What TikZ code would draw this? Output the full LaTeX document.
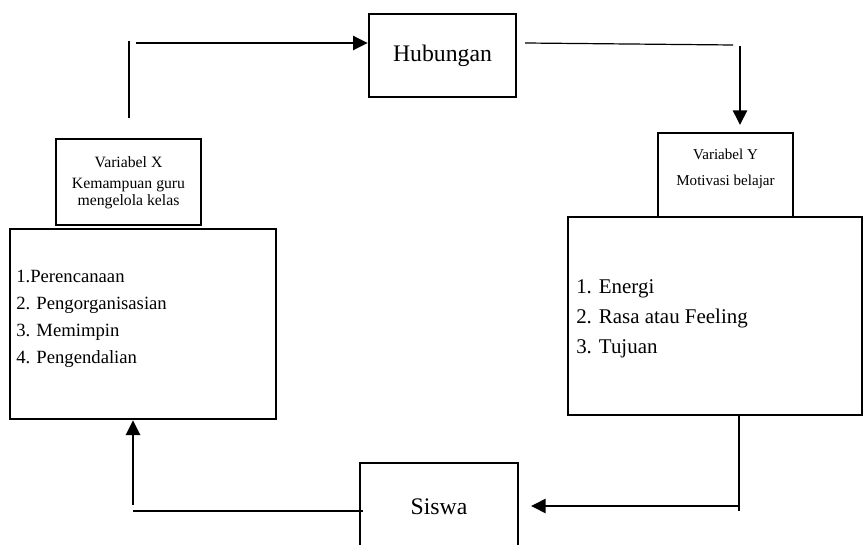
\documentclass[tikz,border=0pt]{standalone}
\usepackage{fontspec}
\setmainfont{Liberation Serif}
\usetikzlibrary{arrows.meta}
\begin{document}
\begin{tikzpicture}[x=0.75pt,y=-0.75pt,
  box/.style={draw,line width=2pt,inner sep=0pt,rectangle},
  thickline/.style={line width=2pt},
  thinline/.style={line width=0.9pt},
  arr/.style={thickline,-{Triangle[length=11pt,width=10.5pt]}},
  big/.style={font=\fontsize{17.8}{20}\selectfont},
  varfont/.style={font=\fontsize{11.8}{13}\selectfont,anchor=base,inner sep=0pt},
  listX/.style={font=\fontsize{14}{16}\selectfont,anchor=base west,inner sep=0pt},
  listY/.style={font=\fontsize{15.7}{18}\selectfont,anchor=base west,inner sep=0pt}]
\useasboundingbox (0,0) rectangle (863,545);
\clip (0,0) rectangle (863,545);
% boxes
\node[box,big,minimum width=110.25pt,minimum height=62.25pt] (hub) at (442.5,55.5) {Hubungan};
\node[box,minimum width=108.75pt,minimum height=64.5pt] (varx) at (128.5,182) {};
\node[box,minimum width=199.5pt,minimum height=142.5pt] (xlist) at (143,324) {};
\node[box,minimum width=101.25pt,minimum height=63pt] (vary) at (725.5,175) {};
\node[box,minimum width=220.5pt,minimum height=148.5pt] (ylist) at (715,316) {};
\node[box,big,minimum width=118.5pt,minimum height=66pt] (siswa) at (439,507) {Siswa};
% texts
\node[varfont] (vx1) at (128.5,168) {Variabel X};
\node[varfont] (vx2) at (128.5,189) {Kemampuan guru};
\node[varfont] (vx3) at (128.5,206) {mengelola kelas};
\node[varfont,font=\fontsize{11.3}{13}\selectfont] (vy1) at (725.5,160) {Variabel Y};
\node[varfont,font=\fontsize{11.3}{13}\selectfont] (vy2) at (725.5,186) {Motivasi belajar};
\node[listX] (x1) at (16,282) {1.Perencanaan};
\node[listX] (x2) at (16,309) {2. Pengorganisasian};
\node[listX] (x3) at (16,336) {3. Memimpin};
\node[listX] (x4) at (16,363) {4. Pengendalian};
\node[listY] (y1) at (576,293) {1. Energi};
\node[listY] (y2) at (576,323) {2. Rasa atau Feeling};
\node[listY] (y3) at (576,353) {3. Tujuan};
% connectors
\coordinate (a1) at (129,118);
\coordinate (a2) at (129,41);
\coordinate (a3) at (136,43);
\draw[thinline] (a1) -- (a2);
\draw[arr] (a3) -- (a3 -| hub.west);
\coordinate (b1) at (525,43);
\coordinate (b2) at (733,45);
\coordinate (b3) at (740,46);
\coordinate (b4) at (740,125);
\draw[thinline] (b1) -- (b2);
\draw[arr] (b3) -- (b4);
\coordinate (c1) at (739,415);
\coordinate (c2) at (739,511);
\coordinate (c3) at (739,506);
\coordinate (c4) at (531,506);
\draw[thinline] (c1) -- (c2);
\draw[arr] (c3) -- (c4);
\coordinate (d1) at (363,511);
\coordinate (d2) at (133,511);
\coordinate (d3) at (133,505);
\draw[thinline] (d1) -- (d2);
\draw[arr] (d3) -- (d3 |- xlist.south);
\end{tikzpicture}
\end{document}
